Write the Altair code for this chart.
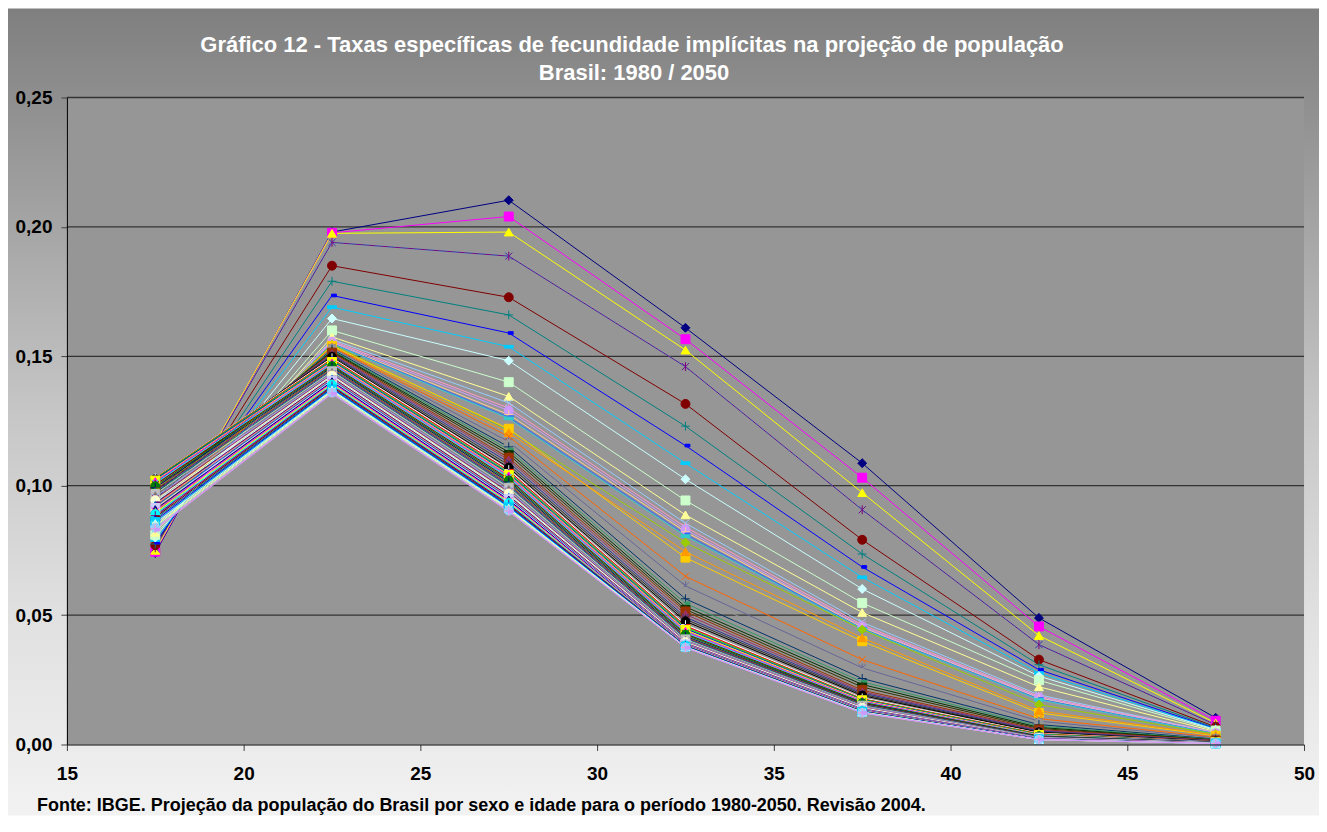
import altair as alt
import pandas as pd

TITLE_LINES = ["Gráfico 12 - Taxas específicas de fecundidade implícitas na projeção de população",
               "Brasil: 1980 / 2050"]
SOURCE = "Fonte: IBGE. Projeção da população do Brasil por sexo e idade para o período 1980-2050. Revisão 2004."

AGES = [17.5, 22.5, 27.5, 32.5, 37.5, 42.5, 47.5]
YEARS = [str(y) for y in range(1980, 2051)]
X_TICKS = [15, 20, 25, 30, 35, 40, 45, 50]
Y_TICKS = [0.0, 0.05, 0.10, 0.15, 0.20, 0.25]

R15_19 = [.0740, .0745, .0750, .0760, .0760, .0770, .0775, .0780, .0790, .0800,
          .0810, .0820, .0830, .0840, .0850, .0860, .0870, .0880, .0890, .0900,
          .0910, .0920, .0930, .0940, .0950, .0960, .0970, .0980, .0990, .1000,
          .1010, .1020, .1025, .1030, .1030, .1028, .1024, .1020, .1016, .1010,
          .1004, .0998, .0992, .0986, .0980, .0974, .0968, .0962, .0956, .0950,
          .0944, .0938, .0932, .0926, .0920, .0914, .0908, .0902, .0896, .0890,
          .0884, .0878, .0872, .0866, .0860, .0854, .0848, .0843, .0838, .0834,
          .0830]
R20_24 = [.1980, .1977, .1975, .1940, .1940, .1850, .1790, .1735, .1690, .1646,
          .1600, .1575, .1565, .1560, .1555, .1552, .1550, .1548, .1545, .1540,
          .1537, .1535, .1532, .1530, .1527, .1524, .1520, .1517, .1514, .1510,
          .1506, .1502, .1498, .1494, .1490, .1486, .1482, .1478, .1474, .1470,
          .1466, .1462, .1458, .1454, .1450, .1446, .1442, .1438, .1434, .1430,
          .1426, .1422, .1418, .1414, .1410, .1406, .1402, .1398, .1394, .1390,
          .1386, .1382, .1378, .1375, .1372, .1369, .1366, .1363, .1360, .1357,
          .1355]
R25_29 = [.2103, .2040, .1980, .1887, .1887, .1728, .1660, .1590, .1537, .1483,
          .1400, .1345, .1320, .1300, .1290, .1275, .1265, .1260, .1215, .1220,
          .1205, .1190, .1170, .1160, .1150, .1140, .1130, .1120, .1108, .1100,
          .1090, .1080, .1070, .1062, .1058, .1050, .1046, .1042, .1038, .1032,
          .1026, .1020, .1014, .1008, .1003, .0998, .0992, .0986, .0981, .0976,
          .0970, .0966, .0961, .0957, .0953, .0949, .0945, .0941, .0937, .0933,
          .0929, .0925, .0922, .0919, .0916, .0913, .0910, .0907, .0904, .0902,
          .0900]
R30_34 = [.1610, .1566, .1524, .1460, .1460, .1316, .1230, .1155, .1087, .1025,
          .0943, .0887, .0855, .0840, .0830, .0822, .0812, .0805, .0780, .0722,
          .0745, .0650, .0613, .0590, .0563, .0545, .0532, .0522, .0514, .0503,
          .0492, .0484, .0476, .0463, .0458, .0452, .0447, .0443, .0437, .0432,
          .0428, .0424, .0418, .0415, .0412, .0409, .0406, .0403, .0400, .0398,
          .0396, .0394, .0392, .0390, .0388, .0387, .0386, .0385, .0384, .0383,
          .0382, .0381, .0380, .0379, .0378, .0377, .0376, .0376, .0375, .0375,
          .0374]
R35_39 = [.1087, .1031, .0973, .0907, .0907, .0791, .0736, .0686, .0646, .0601,
          .0547, .0510, .0472, .0462, .0456, .0452, .0448, .0446, .0444, .0399,
          .0412, .0328, .0296, .0276, .0255, .0242, .0232, .0222, .0210, .0204,
          .0199, .0194, .0189, .0180, .0177, .0175, .0173, .0171, .0168, .0165,
          .0163, .0160, .0158, .0156, .0154, .0152, .0150, .0148, .0146, .0144,
          .0142, .0140, .0138, .0136, .0135, .0134, .0133, .0132, .0131, .0130,
          .0129, .0128, .0127, .0126, .0126, .0125, .0124, .0124, .0123, .0122,
          .0122]
R40_44 = [.0489, .0456, .0421, .0386, .0386, .0328, .0308, .0289, .0276, .0264,
          .0248, .0223, .0192, .0186, .0182, .0179, .0176, .0173, .0154, .0122,
          .0130, .0100, .0090, .0083, .0077, .0071, .0066, .0062, .0058, .0055,
          .0052, .0049, .0047, .0044, .0042, .0040, .0038, .0037, .0035, .0034,
          .0033, .0032, .0031, .0030, .0029, .0028, .0027, .0026, .0026, .0025,
          .0025, .0024, .0024, .0023, .0023, .0022, .0022, .0022, .0021, .0021,
          .0021, .0020, .0020, .0020, .0020, .0019, .0019, .0019, .0019, .0019,
          .0019]
R45_49 = [.0103, .0092, .0083, .0076, .0076, .0068, .0064, .0061, .0059, .0057,
          .0054, .0050, .0046, .0045, .0044, .0043, .0042, .0041, .0040, .0034,
          .0036, .0028, .0025, .0023, .0021, .0019, .0018, .0017, .0016, .0015,
          .0014, .0013, .0012, .0011, .0011, .0010, .0010, .0009, .0009, .0009,
          .0008, .0008, .0008, .0007, .0007, .0007, .0007, .0006, .0006, .0006,
          .0006, .0006, .0005, .0005, .0005, .0005, .0005, .0005, .0005, .0004,
          .0004, .0004, .0004, .0004, .0004, .0004, .0004, .0004, .0004, .0004,
          .0004]

# Excel-style series colour sequence
COLORS = ["#000080", "#FF00FF", "#FFFF00", "#00FFFF", "#800080", "#800000", "#008080", "#0000FF",
          "#00CCFF", "#CCFFFF", "#CCFFCC", "#FFFF99", "#99CCFF", "#FF99CC", "#CC99FF", "#FFCC99",
          "#3366FF", "#33CCCC", "#99CC00", "#FFCC00", "#FF9900", "#FF6600", "#666699", "#969696",
          "#003366", "#339966", "#003300", "#333300", "#993300", "#993366", "#333399", "#333333",
          "#000000", "#FFFFFF", "#FF0000", "#00FF00", "#0000FF", "#FFFF00", "#FF00FF", "#00FFFF",
          "#800000", "#008000", "#000080", "#808000", "#800080", "#008080", "#C0C0C0", "#808080",
          "#9999FF", "#993366", "#FFFFCC", "#CCFFFF", "#660066", "#FF8080", "#0066CC", "#CCCCFF",
          "#000080", "#FF00FF", "#FFFF00", "#00FFFF", "#800080", "#800000", "#008080", "#0000FF",
          "#00CCFF", "#CCFFFF", "#CCFFCC", "#FFFF99", "#99CCFF", "#FF99CC", "#CC99FF"]

MARKERS = ["diamond", "square", "triangle-up",
           "M-0.8,-0.8L0.8,0.8M-0.8,0.8L0.8,-0.8",
           "M-0.8,-0.8L0.8,0.8M-0.8,0.8L0.8,-0.8M0,-1L0,1",
           "circle",
           "M-1,0L1,0M0,-1L0,1",
           "M-0.1,-0.3L1,-0.3L1,0.3L-0.1,0.3Z",
           "M-1,-0.3L1,-0.3L1,0.3L-1,0.3Z"]
SHAPES = [MARKERS[i % len(MARKERS)] for i in range(len(YEARS))]

rates = [R15_19, R20_24, R25_29, R30_34, R35_39, R40_44, R45_49]
rows = []
for i, yr in enumerate(YEARS):
    for j, age in enumerate(AGES):
        rows.append({"year": yr, "age": age, "rate": rates[j][i]})
df = pd.DataFrame(rows)

W, H = 1239, 648
PAD = {"left": 59, "top": 89, "right": 15, "bottom": 71}
FONT = "Liberation Sans"

xs = alt.Scale(domain=[15, 50], nice=False, zero=False)
ys = alt.Scale(domain=[0, 0.25], nice=False)

xaxis = alt.Axis(values=X_TICKS, format="d", title=None, grid=False, zindex=1,
                 labelFont=FONT, labelFontSize=19, labelFontWeight="bold", labelColor="black",
                 labelPadding=14, labelFlush=False, labelOverlap=False,
                 tickColor="#404040", tickSize=6, domainColor="black", domainWidth=1)
yaxis = alt.Axis(values=Y_TICKS, title=None, grid=False, zindex=1,
                 labelExpr="replace(format(datum.value, '.2f'), '.', ',')",
                 labelFont=FONT, labelFontSize=19, labelFontWeight="bold", labelColor="black",
                 labelPadding=9, labelFlush=False, labelOverlap=False,
                 tickColor="#404040", tickSize=6, domainColor="black", domainWidth=1)

one = pd.DataFrame({"a": [0]})

bg = alt.Chart(one).mark_rect(
    fill=alt.LinearGradient(gradient="linear", x1=0, x2=0, y1=0, y2=1,
                            stops=[alt.GradientStop(color="#7f7f7f", offset=0),
                                   alt.GradientStop(color="#a2a2a2", offset=0.25),
                                   alt.GradientStop(color="#c6c6c6", offset=0.5),
                                   alt.GradientStop(color="#e0e0e0", offset=0.75),
                                   alt.GradientStop(color="#f2f2f2", offset=1)])
).encode(x=alt.value(-PAD["left"]), x2=alt.value(W + PAD["right"]),
         y=alt.value(-PAD["top"]), y2=alt.value(H + PAD["bottom"]))

plotbg = alt.Chart(one).mark_rect(fill="#969696").encode(
    x=alt.value(0), x2=alt.value(W), y=alt.value(0), y2=alt.value(H))

grid = alt.Chart(pd.DataFrame({"v": Y_TICKS[1:]})).mark_rule(
    color="#333333", strokeWidth=1.3).encode(
    y=alt.Y("v:Q", scale=ys, axis=yaxis, title=None))

lines = alt.Chart(df).mark_line(strokeWidth=1).encode(
    x=alt.X("age:Q", scale=xs, axis=xaxis, title=None),
    y=alt.Y("rate:Q", scale=ys, axis=yaxis, title=None),
    color=alt.Color("year:N", scale=alt.Scale(domain=YEARS, range=COLORS), legend=None),
)

points = alt.Chart(df).mark_point(filled=True, size=80, strokeWidth=1, opacity=1).encode(
    x=alt.X("age:Q", scale=xs, axis=xaxis, title=None),
    y=alt.Y("rate:Q", scale=ys, axis=yaxis, title=None),
    fill=alt.Fill("year:N", scale=alt.Scale(domain=YEARS, range=COLORS), legend=None),
    stroke=alt.Stroke("year:N", scale=alt.Scale(domain=YEARS, range=COLORS), legend=None),
    shape=alt.Shape("year:N", scale=alt.Scale(domain=YEARS, range=SHAPES), legend=None),
)

title1 = alt.Chart(pd.DataFrame({"t": [TITLE_LINES[0]]})).mark_text(
    align="center", baseline="middle", font=FONT, fontSize=22, fontWeight="bold", color="white"
).encode(x=alt.value(566), y=alt.value(-53), text="t:N")

title2 = alt.Chart(pd.DataFrame({"t": [TITLE_LINES[1]]})).mark_text(
    align="center", baseline="middle", font=FONT, fontSize=22, fontWeight="bold", color="white"
).encode(x=alt.value(568), y=alt.value(-25), text="t:N")

footer = alt.Chart(pd.DataFrame({"t": [SOURCE]})).mark_text(
    align="left", baseline="alphabetic", font=FONT, fontSize=18, fontWeight="bold", color="black"
).encode(x=alt.value(-30), y=alt.value(H + 67), text="t:N")

chart = alt.layer(bg, plotbg, grid, lines, points, title1, title2, footer).properties(
    width=W, height=H,
    padding=PAD,
    autosize=alt.AutoSizeParams(type="none"),
).configure_view(stroke=None).configure(background="white")

chart.save("out.html", embed_options={"renderer": "svg", "actions": False})
